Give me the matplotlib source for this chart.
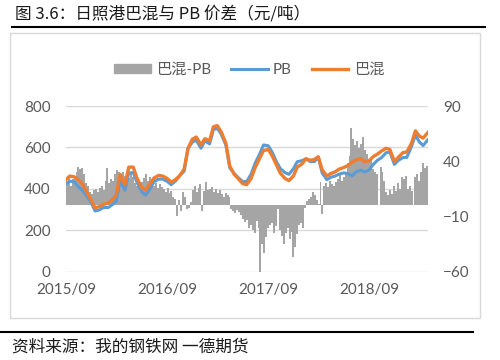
import matplotlib
matplotlib.use('Agg')
import matplotlib.pyplot as plt
import matplotlib.dates as mdates
from matplotlib.lines import Line2D
from matplotlib.patches import Patch, Rectangle
import pandas as pd

plt.rcParams['font.family'] = ['Lato', 'Noto Sans CJK SC', 'DejaVu Sans']

# Texts
title = '图 3.6：日照港巴混与 PB 价差（元/吨）'
source = '资料来源：我的钢铁网 一德期货'
label_spread = '巴混-PB'
label_pb = 'PB'
label_bh = '巴混'
x_labels = ['2015/09', '2016/09', '2017/09', '2018/09']
x_label_dates = ['2015-09-01', '2016-09-01', '2017-09-01', '2018-09-01']

# Price lines (yuan/t), semi-monthly from 2015-09
bh_price = [445, 462, 458, 445, 420, 385, 345, 308, 315, 325,
            332, 345, 370, 470, 420, 505, 505, 450, 405, 395,
            425, 452, 465, 462, 450, 432, 445, 462, 495, 595,
            640, 650, 612, 642, 632, 700, 705, 675, 620, 510,
            470, 450, 425, 420, 450, 500, 548, 585, 590, 560,
            515, 475, 450, 440, 462, 505, 520, 545, 538, 542,
            555, 492, 462, 474, 482, 495, 503, 512, 528, 540,
            546, 532, 536, 555, 568, 582, 596, 590, 532, 552,
            575, 578, 620, 680, 655, 645, 672]
pb_price = [423, 437, 434, 411, 390, 365, 333, 293, 299, 310,
            310, 323, 342, 440, 393, 477, 478, 430, 385, 370,
            401, 434, 447, 447, 436, 420, 438, 462, 485, 595,
            626, 635, 596, 632, 617, 686, 692, 665, 611, 502,
            474, 455, 435, 435, 470, 522, 568, 612, 608, 578,
            530, 497, 478, 470, 497, 531, 536, 545, 531, 532,
            553, 477, 444, 456, 462, 471, 477, 474, 462, 482,
            490, 482, 491, 517, 538, 550, 574, 578, 518, 537,
            551, 552, 605, 660, 627, 609, 637]

# Spread 巴混-PB (yuan/t), weekly from 2015-09-04
spread = [22, 25, 18, 24, 26, 30, 35, 33, 34, 28,
          20, 18, 12, 10, 14, 15, 12, 16, 18, 14,
          22, 34, 20, 24, 22, 28, 32, 30, 26, 30,
          27, 28, 25, 30, 26, 20, 18, 22, 19, 21,
          25, 28, 22, 26, 24, 18, 20, 16, 19, 17,
          15, 12, 16, 11, 13, 8, 6, -10, 5, -5,
          12, 8, -3, -2, 3, 14, 18, 12, 16, 19,
          -5, 13, 21, 14, 15, 17, 12, 15, 11, 14,
          10, 8, 11, 9, 8, -3, -5, -7, -4, -6,
          -9, -12, -15, -13, -20, -18, -22, -25, -14, -20,
          -60, -35, -43, -29, -20, -18, -16, -25, -19, -3,
          -22, -28, -35, -25, -20, -30, -24, -47, -38, -26,
          -18, -16, -20, -2, 4, 6, 8, 12, 9, 5,
          1, 21, -8, 18, 20, 17, 22, 19, 18, 21,
          24, 29, 22, 26, 30, 38, 45, 70, 60, 55,
          58, 52, 56, 62, 50, 47, 40, 43, 33, 30,
          28, 0, 35, 30, 22, 12, 9, 14, 10, 18,
          13, 20, 15, 26, 24, 27, 15, 18, 13, 0,
          26, 28, 22, 30, 38, 34, 36]

line_dates = mdates.date2num(pd.date_range('2015-09-01', periods=len(pb_price), freq='SMS'))
bar_dates = mdates.date2num(pd.date_range('2015-09-04', periods=len(spread), freq='7D'))

def fx(px):
    return px / 500

def fy(py):
    return 1 - py / 360

fig = plt.figure(figsize=(5, 3.6), dpi=100)

# Header, footer and frame
fig.text(fx(15), fy(14), title, fontsize=12, ha='left', va='center',
         family=['Noto Sans CJK SC'], color='#1a1a1a')
fig.add_artist(Line2D([fx(12), fx(485)], [fy(27), fy(27)], color='black', lw=1.5))
fig.add_artist(Rectangle((fx(10), fy(318)), fx(480) - fx(10), (318 - 33) / 360,
                         transform=fig.transFigure, fill=False, edgecolor='#d9d9d9', lw=1))
fig.add_artist(Line2D([fx(0), fx(473)], [fy(332), fy(332)], color='black', lw=1.5))
fig.text(fx(12), fy(347), source, fontsize=12, ha='left', va='center',
         family=['Noto Sans CJK SC'], color='#1a1a1a')

# Bars on the right scale, lines on the left scale drawn on top
ax_bar = fig.add_axes([fx(66), fy(271.7), fx(428) - fx(66), 165.7 / 360])
ax_line = ax_bar.twinx()

for g in [-60, -22.5, 15, 52.5, 90]:
    ax_bar.axhline(g, color='#d9d9d9', lw=1, zorder=0)

ax_bar.bar(bar_dates, spread, width=7.2, color='#a5a5a5', linewidth=0, zorder=2)
ax_line.plot(line_dates, pb_price, color='#5b9bd5', lw=2.2)
ax_line.plot(line_dates, bh_price, color='#ed7d31', lw=2.4)

ax_bar.set_ylim(-60, 90)
ax_bar.set_yticks([-60, -10, 40, 90])
ax_line.set_ylim(0, 800)
ax_line.set_yticks([0, 200, 400, 600, 800])
ax_bar.yaxis.tick_right()
ax_line.yaxis.tick_left()

ax_bar.set_xlim(mdates.date2num(pd.Timestamp('2015-09-01')), bar_dates[-1] + 3.6)
ax_bar.set_xticks(mdates.date2num(pd.to_datetime(x_label_dates)))
ax_bar.set_xticklabels(x_labels)

for a in [ax_bar, ax_line]:
    for s in a.spines.values():
        s.set_visible(False)
    a.tick_params(length=0, labelsize=11, labelcolor='#595959')
ax_bar.tick_params(axis='x', pad=8)
ax_bar.tick_params(axis='y', pad=11)
ax_line.tick_params(axis='y', pad=11)

handles = [Patch(color='#a5a5a5'),
           Line2D([], [], color='#5b9bd5', lw=2.2),
           Line2D([], [], color='#ed7d31', lw=2.4)]
fig.legend(handles, [label_spread, label_pb, label_bh], loc='center',
           bbox_to_anchor=(fx(249), fy(70)), ncol=3, frameon=False, fontsize=11,
           labelcolor='#595959', handlelength=2.4, handleheight=0.55,
           handletextpad=0.35, columnspacing=1.3)

plt.savefig('out.png', dpi=100)
